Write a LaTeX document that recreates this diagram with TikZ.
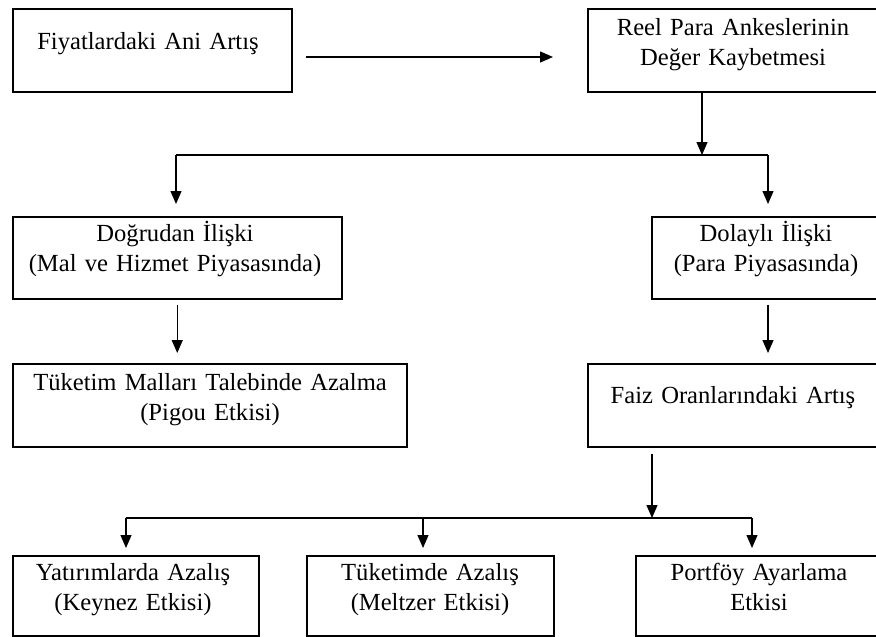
\documentclass[tikz,border=0pt]{standalone}
\usepackage{fontspec}
\setmainfont{Liberation Serif}
\usetikzlibrary{arrows.meta}
\begin{document}
\begin{tikzpicture}[x=1pt,y=-1pt,
  box/.style={draw, line width=1.5pt, inner sep=0pt, anchor=north west},
  txt/.style={font=\fontsize{24.6}{30}\selectfont, align=center, text width=420pt, inner sep=0pt, anchor=base},
  conn/.style={line width=1.3pt},
  arr/.style={conn, -{Triangle[length=13pt,width=11pt]}}]
\useasboundingbox (0,0) rectangle (876,637);
\clip (0,0) rectangle (876,637);
% boxes
\node[box, minimum width=279pt, minimum height=83pt] (b1) at (12,8) {};
\node[box, minimum width=293pt, minimum height=83pt] (b2) at (587,8) {};
\node[box, minimum width=329pt, minimum height=82pt] (b3) at (12,216) {};
\node[box, minimum width=229pt, minimum height=82pt] (b4) at (651,216) {};
\node[box, minimum width=394pt, minimum height=83pt] (b5) at (12,363) {};
\node[box, minimum width=293pt, minimum height=83pt] (b6) at (587,363) {};
\node[box, minimum width=246pt, minimum height=80pt] (b7) at (12,555) {};
\node[box, minimum width=247pt, minimum height=80pt] (b8) at (306,555) {};
\node[box, minimum width=245pt, minimum height=80pt] (b9) at (635,555) {};
% texts
\node[txt] (t1) at (148,49) {Fiyatlardaki Ani Artış};
\node[txt] (t2) at (733,35) {Reel Para Ankeslerinin\\Değer Kaybetmesi};
\node[txt] (t3) at (175,241) {Doğrudan İlişki\\(Mal ve Hizmet Piyasasında)};
\node[txt] (t4) at (766,241) {Dolaylı İlişki\\(Para Piyasasında)};
\node[txt] (t5) at (210,390) {Tüketim Malları Talebinde Azalma\\(Pigou Etkisi)};
\node[txt] (t6) at (733,403) {Faiz Oranlarındaki Artış};
\node[txt] (t7) at (133,580) {Yatırımlarda Azalış\\(Keynez Etkisi)};
\node[txt] (t8) at (430,580) {Tüketimde Azalış\\(Meltzer Etkisi)};
\node[txt] (t9) at (759,580) {Portföy Ayarlama\\Etkisi};
% connectors
\coordinate (h1s) at (306,57);
\coordinate (h1e) at (553,57);
\draw[arr] (h1s) -- (h1e);
\coordinate (j1) at (702,155);
\coordinate (j1L) at (176,155);
\coordinate (j1R) at (768,155);
\draw[arr] (b2.south -| j1) -- (j1);
\draw[conn] (j1L) -- (j1R);
\draw[arr, shorten >=12pt] (j1L) -- (b3.north -| j1L);
\draw[arr, shorten >=12pt] (j1R) -- (b4.north -| j1R);
\draw[arr, shorten <=5pt, shorten >=10pt] (b3.south) -- (b3.south |- b5.north);
\draw[arr, shorten <=5pt, shorten >=10pt] (b4.south -| j1R) -- (b6.north -| j1R);
\coordinate (j2) at (652,518);
\coordinate (j2L) at (126,518);
\coordinate (j2M) at (423,518);
\coordinate (j2R) at (752,518);
\draw[arr, shorten <=6pt] (b6.south -| j2) -- (j2);
\draw[conn] (j2L) -- (j2R);
\draw[arr, shorten >=7pt] (j2L) -- (b7.north -| j2L);
\draw[arr, shorten >=7pt] (j2M) -- (b8.north -| j2M);
\draw[arr, shorten >=7pt] (j2R) -- (b9.north -| j2R);
\end{tikzpicture}
\end{document}
